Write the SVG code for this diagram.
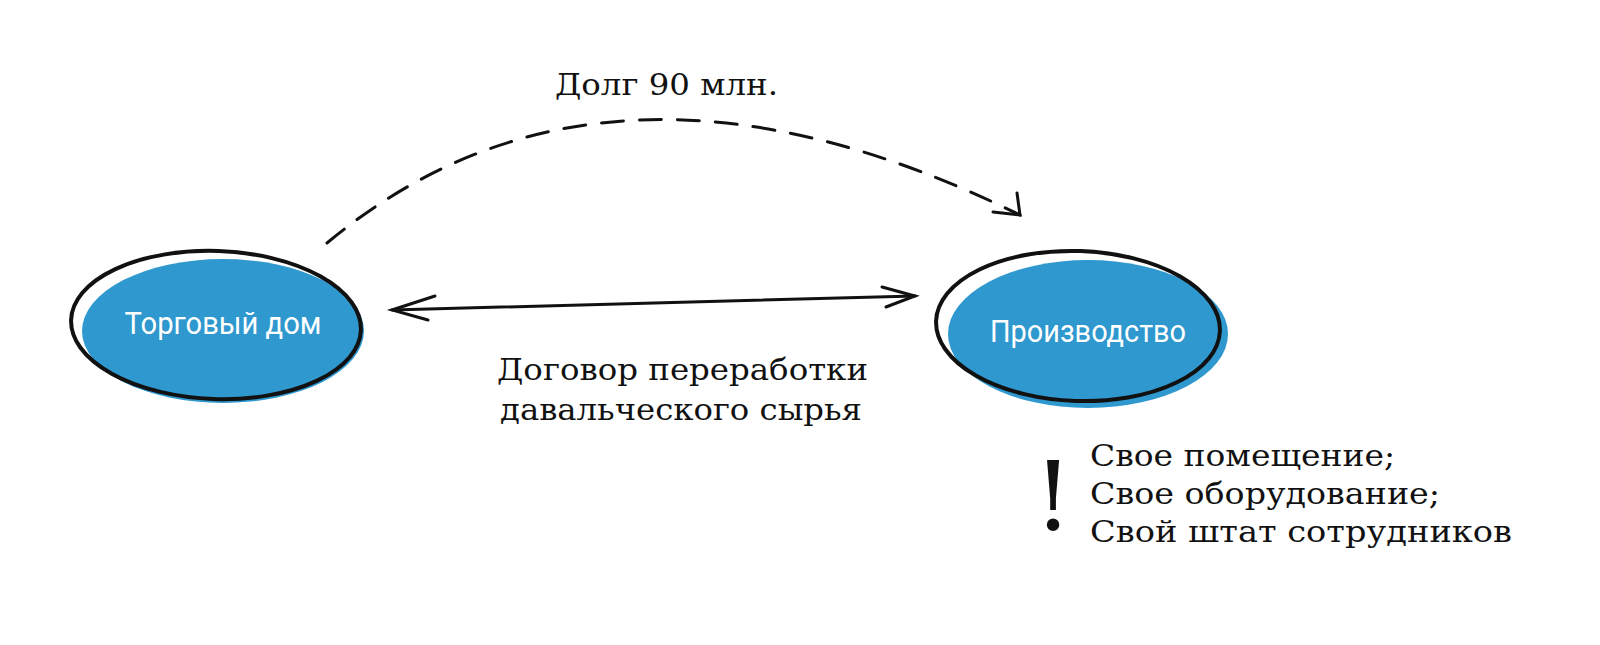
<svg xmlns="http://www.w3.org/2000/svg" width="1600" height="645" viewBox="0 0 1600 645">
<style>
.blue{fill:#2e98cf}
.ol{fill:none;stroke:#111;stroke-width:4}
.nt{font-family:Roboto,"Liberation Sans",sans-serif;font-size:31px;fill:#fff;text-anchor:middle}
.st{font-family:"DejaVu Serif","Liberation Serif",serif;font-size:30px;fill:#111}
.ln{fill:none;stroke:#111;stroke-width:3;stroke-linecap:round}
</style>
<rect width="1600" height="645" fill="#fff"/>
<g id="torg">
<ellipse class="blue" cx="223" cy="331" rx="141" ry="72"/>
<ellipse class="ol" cx="216" cy="325" rx="145" ry="74" transform="rotate(2 216 325)"/>
<text class="nt" x="223" y="334" textLength="197" lengthAdjust="spacingAndGlyphs">Торговый дом</text>
</g>
<g id="proizv">
<ellipse class="blue" cx="1088" cy="334" rx="140" ry="74"/>
<ellipse class="ol" cx="1078" cy="326" rx="142" ry="75" transform="rotate(2 1078 326)"/>
<text class="nt" x="1088" y="342" textLength="196" lengthAdjust="spacingAndGlyphs">Производство</text>
</g>
<g id="connectors">
<path class="ln" d="M327,243 Q606,11 1020,215" stroke-dasharray="22,16"/>
<path class="ln" d="M993,212 L1020,215 L1017,193"/>
<path class="ln" d="M392,310 L915,296"/>
<path class="ln" d="M435,296 L392,310 L428,320"/>
<path class="ln" d="M882,287 L915,296 L886,307"/>
</g>
<g id="labels">
<text class="st" x="555" y="95" textLength="223" lengthAdjust="spacingAndGlyphs">Долг 90 млн.</text>
<text class="st" x="497" y="380" textLength="371" lengthAdjust="spacingAndGlyphs">Договор переработки</text>
<text class="st" x="500" y="420" textLength="362" lengthAdjust="spacingAndGlyphs">давальческого сырья</text>
<text x="1053" y="530" font-family="DejaVu Serif,serif" font-size="96" text-anchor="middle" fill="#111">!</text>
<text class="st" x="1090" y="466" textLength="305" lengthAdjust="spacingAndGlyphs">Свое помещение;</text>
<text class="st" x="1090" y="504" textLength="350" lengthAdjust="spacingAndGlyphs">Свое оборудование;</text>
<text class="st" x="1090" y="542" textLength="422" lengthAdjust="spacingAndGlyphs">Свой штат сотрудников</text>
</g>
</svg>
